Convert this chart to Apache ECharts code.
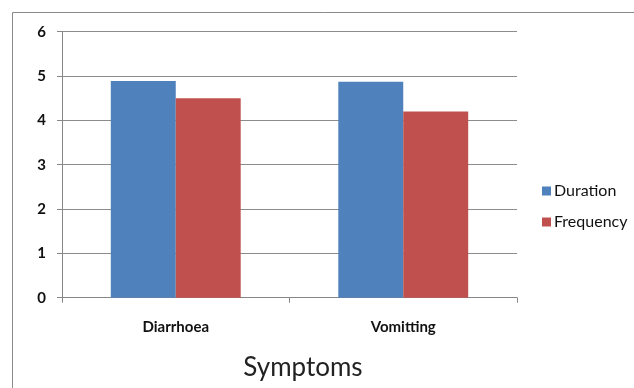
<!DOCTYPE html>
<html>
<head>
<meta charset="utf-8">
<script src="https://cdn.jsdelivr.net/npm/echarts@6/dist/echarts.min.js"></script>
<style>
html,body{margin:0;padding:0;background:#fff;}
#c{width:634px;height:388px;}
</style>
</head>
<body>
<div id="c"></div>
<script>
const categories = ["Diarrhoea", "Vomitting"];
const durationValues = [4.89, 4.87];
const frequencyValues = [4.5, 4.2];
const seriesNames = ["Duration", "Frequency"];
const yTicks = [0, 1, 2, 3, 4, 5, 6];
const xAxisTitle = "Symptoms";

const chart = echarts.init(document.getElementById('c'), null, {renderer: 'canvas'});
const font = 'Lato, "Open Sans", sans-serif';
chart.setOption({
  animation: false,
  graphic: [{
    type: 'rect', shape: {x: 12.5, y: 12.5, width: 700, height: 500},
    style: {fill: 'none', stroke: '#8a8a8a', lineWidth: 1}, z: -1
  }, {
    type: 'text', x: 303, y: 368,
    style: {text: xAxisTitle, font: '26px ' + font, fill: '#222', align: 'center', verticalAlign: 'middle'}
  }],
  grid: {left: 62, top: 31.7, width: 455, height: 266, containLabel: false},
  legend: {
    orient: 'vertical', left: 537, top: 178,
    itemWidth: 9, itemHeight: 9, itemGap: 15,
    icon: 'rect',
    textStyle: {fontFamily: font, fontSize: 16, lineHeight: 16, color: '#111', padding: [0, 0, 0, -2]},
    data: seriesNames
  },
  xAxis: {
    type: 'category', data: categories,
    axisLine: {lineStyle: {color: '#868686', width: 1}},
    axisTick: {show: true, alignWithLabel: false, length: 5, lineStyle: {color: '#868686'}},
    axisLabel: {fontFamily: font, fontSize: 15, fontWeight: 'bold', color: '#111', margin: 22}
  },
  yAxis: {
    type: 'value', min: 0, max: 6, interval: 1,
    axisLine: {show: true, lineStyle: {color: '#868686', width: 1}},
    axisTick: {show: true, length: 5, lineStyle: {color: '#868686'}},
    axisLabel: {fontFamily: font, fontSize: 15, fontWeight: 'bold', color: '#111', margin: 16,
      formatter: v => yTicks.includes(v) ? String(v) : ''},
    splitLine: {lineStyle: {color: '#8c8c8c', width: 1}}
  },
  series: [{
    name: seriesNames[0], type: 'bar', data: durationValues,
    barGap: '0%', barCategoryGap: '42.9%',
    itemStyle: {color: '#4f81bd'}
  }, {
    name: seriesNames[1], type: 'bar', data: frequencyValues,
    barGap: '0%', barCategoryGap: '42.9%',
    itemStyle: {color: '#c0504d'}
  }]
});
</script>
</body>
</html>
